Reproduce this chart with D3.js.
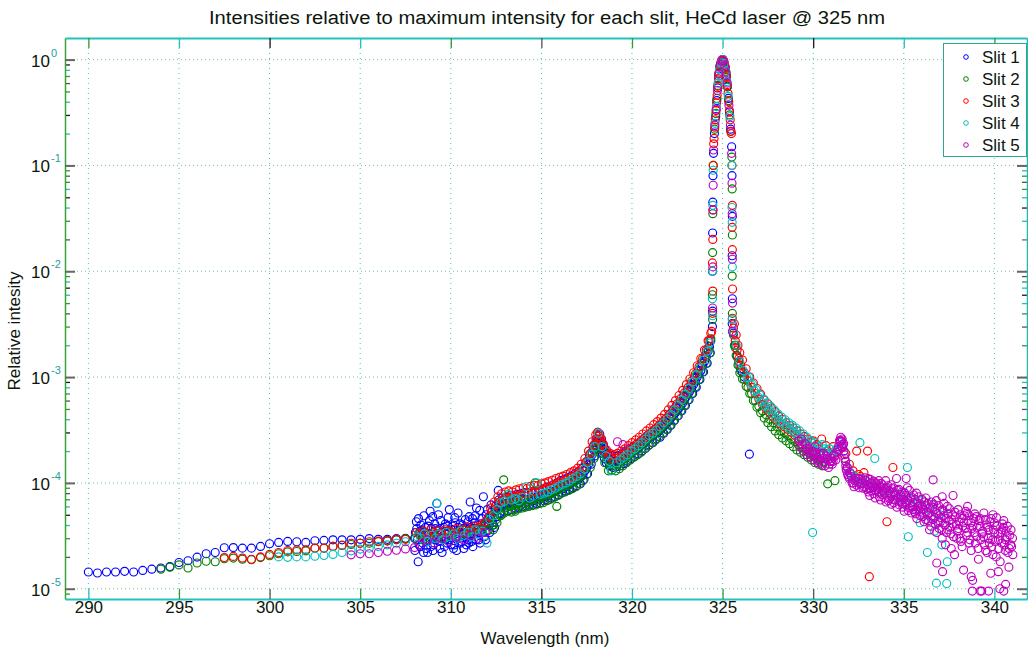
<!DOCTYPE html>
<html>
<head>
<meta charset="utf-8">
<script src="https://cdn.jsdelivr.net/npm/d3@7"></script>
<style>
  body { margin: 0; background: #fff; }
  svg { display: block; }
  text { font-family: "Liberation Sans", Arial, Helvetica, sans-serif; }
</style>
</head>
<body>
<svg id="chart" width="1028" height="653"></svg>
<script>
// ---- data: [wavelength (nm), intensity relative to the slit's maximum] ----
const slitNames = ["Slit 1", "Slit 2", "Slit 3", "Slit 4", "Slit 5"];
const xTickValues = [290, 295, 300, 305, 310, 315, 320, 325, 330, 335, 340];
const yTickExponents = [-5, -4, -3, -2, -1, 0];

const slit1 = [
  [290.0,1.44e-5],[290.5,1.41e-5],[291.0,1.44e-5],[291.5,1.44e-5],[292.0,1.46e-5],[292.5,1.44e-5],
  [293.0,1.49e-5],[293.5,1.53e-5],[294.0,1.57e-5],[294.5,1.62e-5],[295.0,1.77e-5],[295.5,1.84e-5],
  [296.0,1.99e-5],[296.5,2.14e-5],[297.0,2.2e-5],[297.5,2.44e-5],[298.0,2.45e-5],[298.5,2.42e-5],
  [299.0,2.42e-5],[299.5,2.51e-5],[300.0,2.66e-5],[300.5,2.74e-5],[301.0,2.8e-5],[301.5,2.78e-5],
  [302.0,2.74e-5],[302.5,2.84e-5],[303.0,2.86e-5],[303.5,2.9e-5],[304.0,2.9e-5],[304.5,2.9e-5],
  [305.0,2.93e-5],[305.5,2.98e-5],[306.0,2.93e-5],[306.5,2.93e-5],[307.0,2.98e-5],[307.5,3.0e-5],
  [308.0,3.0e-5],[308.05,3.4e-5],[308.1,4.3e-5],[308.15,2.9e-5],[308.2,1.8e-5],[308.25,2.6e-5],
  [308.3,3.5e-5],[308.35,4.0e-5],[308.4,3.1e-5],[308.45,2.7e-5],[308.5,2.2e-5],[308.55,3.2e-5],
  [308.6,3.8e-5],[308.65,2.4e-5],[308.7,2.8e-5],[308.75,3.9e-5],[308.8,3.3e-5],[308.86,5.4e-5],
  [308.9,2.5e-5],[308.95,3.0e-5],[309.0,4.8e-5],[309.05,2.6e-5],[309.1,3.2e-5],[309.15,3.7e-5],
  [309.2,2.9e-5],[309.23,6.4e-5],[309.3,3.6e-5],[309.35,2.8e-5],[309.4,2.4e-5],[309.45,4.4e-5],
  [309.5,3.4e-5],[309.55,3.1e-5],[309.6,3.0e-5],[309.65,2.5e-5],[309.7,4.1e-5],[309.75,3.3e-5],
  [309.8,2.7e-5],[309.85,4.7e-5],[309.9,3.5e-5],[309.95,2.9e-5],[310.0,3.1e-5],[310.05,3.6e-5],
  [310.1,3.9e-5],[310.15,2.4e-5],[310.2,2.6e-5],[310.25,4.2e-5],[310.3,3.3e-5],[310.35,3.0e-5],
  [310.4,5.2e-5],[310.45,3.5e-5],[310.5,3.0e-5],[310.55,2.7e-5],[310.6,2.8e-5],[310.65,4.0e-5],
  [310.7,3.7e-5],[310.75,3.3e-5],[310.8,4.5e-5],[310.85,2.6e-5],[310.9,3.2e-5],[310.95,4.3e-5],
  [311.0,2.7e-5],[311.05,3.1e-5],[311.07,6.6e-5],[311.1,3.8e-5],[311.15,2.8e-5],[311.2,4.6e-5],
  [311.25,3.7e-5],[311.3,3.4e-5],[311.35,4.9e-5],[311.4,2.9e-5],[311.45,3.3e-5],[311.5,4.0e-5],
  [311.55,2.9e-5],[311.6,5.5e-5],[311.65,4.1e-5],[311.7,3.6e-5],[311.75,3.5e-5],[311.8,7.4e-5],
  [311.85,3.1e-5],[311.9,4.2e-5],[311.95,5.0e-5],[312.0,3.5e-5],
  [312.2,4.5e-5],[312.3,4.2e-5],[312.4,5.0e-5],[312.5,5.4e-5],[312.6,5.8e-5],[312.62,8.5e-5],
  [312.7,5.2e-5],[312.8,6.0e-5],[312.9,6.4e-5],[313.0,6.2e-5],[313.1,5.9e-5],[313.2,6.6e-5],
  [313.3,6.9e-5],[313.4,6.3e-5],[313.5,6.1e-5],[313.6,6.8e-5],[313.7,6.4e-5],[313.8,6.5e-5],
  [313.9,7.1e-5],[314.0,7.0e-5],[314.1,6.4e-5],[314.2,6.6e-5],[314.3,6.9e-5],[314.4,7.2e-5],
  [314.5,6.7e-5],[314.6,6.9e-5],[314.7,7.3e-5],[314.8,7.4e-5],[314.9,7.0e-5],[315.0,7.3e-5],
  [315.1,7.6e-5],[315.2,7.8e-5],[315.3,7.4e-5],[315.4,7.6e-5],[315.5,8.0e-5],[315.6,8.2e-5],
  [315.7,8.3e-5],[315.8,8.5e-5],[315.9,8.6e-5],[316.0,9.0e-5],[316.1,9.3e-5],[316.2,8.8e-5],
  [316.3,9.1e-5],[316.4,9.6e-5],[316.5,9.5e-5],[316.6,9.8e-5],[316.7,1.01e-4],[316.8,1.05e-4],
  [316.9,1.06e-4],[317.0,1.08e-4],[317.1,1.12e-4],[317.2,1.15e-4],[317.3,1.2e-4],[317.4,1.3e-4],
  [317.5,1.4e-4],[317.6,1.5e-4],[317.7,1.65e-4],[317.8,1.85e-4],[317.9,2.05e-4],[318.0,2.25e-4],
  [318.05,2.4e-4],[318.1,2.5e-4],[318.15,2.8e-4],[318.2,2.6e-4],[318.25,2.35e-4],[318.3,2.4e-4],
  [318.35,2.2e-4],[318.4,2.1e-4],[318.45,1.95e-4],[318.5,1.9e-4],[318.55,1.85e-4],[318.6,1.75e-4],
  [318.7,1.7e-4],[318.8,1.62e-4],[318.9,1.6e-4],[319.0,1.55e-4],[319.1,1.62e-4],[319.2,1.58e-4],
  [319.3,1.6e-4],[319.4,1.65e-4],[319.5,1.7e-4],[319.6,1.75e-4],[319.7,1.8e-4],[319.8,1.85e-4],
  [319.9,1.9e-4],[320.0,1.95e-4],[320.1,2.0e-4],[320.2,2.05e-4],[320.3,2.1e-4],[320.4,2.2e-4],
  [320.5,2.3e-4],[320.6,2.35e-4],[320.7,2.4e-4],[320.8,2.5e-4],[320.9,2.6e-4],[321.0,2.7e-4],
  [321.1,2.75e-4],[321.2,2.85e-4],[321.3,2.95e-4],[321.4,3.0e-4],[321.5,3.1e-4],[321.6,3.2e-4],
  [321.7,3.35e-4],[321.8,3.5e-4],[321.9,3.65e-4],[322.0,3.8e-4],[322.1,4.0e-4],[322.2,4.2e-4],
  [322.3,4.4e-4],[322.4,4.6e-4],[322.5,4.8e-4],[322.6,5.1e-4],[322.7,5.4e-4],[322.8,5.7e-4],
  [322.9,6.1e-4],[323.0,6.5e-4],[323.1,6.9e-4],[323.2,7.4e-4],[323.3,7.9e-4],[323.4,8.5e-4],
  [323.5,9.2e-4],[323.6,1.0e-3],[323.7,1.08e-3],[323.8,1.15e-3],[323.9,1.28e-3],[324.0,1.4e-3],
  [324.1,1.55e-3],[324.2,1.75e-3],[324.28,1.95e-3],[324.35,2.2e-3],
  [324.44,3.0e-3],[324.45,4.2e-3],[324.44,1.0e-2],[324.45,2.3e-2],[324.46,4.5e-2],[324.47,8.0e-2],[324.5,0.13],
  [324.55,0.2],[324.62,0.29],[324.68,0.41],[324.73,0.54],[324.78,0.7],[324.85,0.86],[324.92,0.95],
  [325.0,1.0],[325.07,0.95],[325.14,0.85],[325.2,0.72],[325.26,0.56],[325.32,0.43],[325.38,0.32],[325.44,0.22],
  [325.5,0.15],[325.52,8.0e-2],[325.54,3.3e-2],[325.53,1.4e-2],[325.54,5.5e-3],[325.53,3.2e-3],
  [325.6,2.6e-3],[325.7,2.0e-3],[325.8,1.6e-3],[325.9,1.4e-3],[326.0,1.2e-3],[326.1,1.1e-3],
  [326.2,1.0e-3],[326.48,1.87e-4]
];
// second scan of slit 1 through the dense part of the band
const slit1Scan2 = [
  [312.05,4.6e-5],[312.15,3.4e-5],[312.25,5.3e-5],[312.35,4.0e-5],[312.45,6.0e-5],[312.55,4.8e-5],
  [312.65,6.9e-5],[312.75,5.1e-5],[312.85,7.2e-5],[312.95,5.4e-5],[313.05,7.3e-5],[313.15,5.5e-5],
  [313.25,7.6e-5],[313.35,5.6e-5],[313.45,7.5e-5],[313.55,5.8e-5],[313.65,7.8e-5],[313.75,5.9e-5],
  [313.85,7.9e-5],[313.95,6.0e-5],[314.05,8.1e-5],[314.15,6.1e-5],[314.25,8.0e-5],[314.35,6.2e-5],
  [314.45,8.3e-5],[314.55,6.3e-5],[314.65,8.4e-5],[314.75,6.4e-5],[314.85,8.6e-5],[314.95,6.5e-5],
  [315.05,8.7e-5],[315.15,6.8e-5],[315.25,9.0e-5],[315.35,6.9e-5],[315.45,9.2e-5],[315.55,7.2e-5],
  [315.65,9.6e-5],[315.75,7.4e-5],[315.85,1.0e-4],[315.95,7.7e-5],[316.05,1.05e-4],[316.15,8.1e-5],
  [316.25,1.08e-4],[316.35,8.4e-5],[316.45,1.12e-4],[316.55,8.6e-5],[316.65,1.16e-4],[316.75,9.0e-5],
  [316.85,1.22e-4],[316.95,9.4e-5],[317.05,1.28e-4],[317.15,9.8e-5],[317.25,1.38e-4],[317.35,1.08e-4],
  [317.45,1.55e-4],[317.55,1.22e-4],[317.65,1.85e-4],[317.75,1.5e-4],[317.85,2.2e-4],[317.95,1.8e-4],
  [318.02,2.6e-4],[318.08,2.1e-4],[318.12,3.0e-4],[318.18,2.3e-4],[318.22,2.9e-4],[318.28,2.1e-4],
  [318.32,2.6e-4],[318.38,1.9e-4],[318.42,2.3e-4],[318.48,1.7e-4],[318.52,2.05e-4],[318.58,1.55e-4],
  [318.65,1.9e-4],[318.75,1.45e-4],[318.85,1.82e-4],[318.95,1.4e-4],[319.05,1.78e-4],[319.15,1.42e-4],
  [319.25,1.8e-4],[319.35,1.45e-4],[319.45,1.88e-4],[319.55,1.52e-4],[319.65,1.98e-4],[319.75,1.6e-4],
  [319.85,2.1e-4],[319.95,1.7e-4],[320.05,2.2e-4],[320.15,1.78e-4],[320.25,2.32e-4],[320.35,1.88e-4],
  [320.45,2.45e-4],[320.55,2.0e-4],[320.65,2.62e-4],[320.75,2.12e-4],[320.85,2.8e-4],[320.95,2.28e-4],
  [321.05,3.0e-4],[321.15,2.4e-4],[321.25,3.2e-4],[321.35,2.6e-4],[321.45,3.4e-4],[321.55,2.7e-4],
  [321.65,3.65e-4],[321.75,2.95e-4],[321.85,4.0e-4],[321.95,3.2e-4],[322.05,4.4e-4],[322.15,3.5e-4],
  [322.25,4.8e-4],[322.35,3.9e-4],[322.45,5.3e-4],[322.55,4.3e-4],[322.65,5.9e-4],[322.75,4.8e-4],
  [322.85,6.6e-4],[322.95,5.4e-4],[323.05,7.5e-4],[323.15,6.1e-4],[323.25,8.5e-4],[323.35,7.0e-4],
  [323.45,9.8e-4],[323.55,8.0e-4],[323.65,1.15e-3],[323.75,9.5e-4],[323.85,1.35e-3],[323.95,1.12e-3],
  [324.05,1.6e-3],[324.15,1.35e-3],[324.25,1.95e-3],[324.32,1.7e-3]
];
// third scan of slit 1: the noisy stretch below 312.5 nm
const slit1Scan3 = [
  [308.02,2.3e-5],[308.12,3.7e-5],[308.22,4.6e-5],[308.32,2.5e-5],[308.42,3.6e-5],[308.52,4.9e-5],
  [308.62,2.9e-5],[308.72,2.2e-5],[308.82,4.4e-5],[308.92,3.7e-5],[309.02,2.3e-5],[309.12,4.1e-5],
  [309.22,3.3e-5],[309.32,5.0e-5],[309.42,3.0e-5],[309.52,2.2e-5],[309.62,3.8e-5],[309.72,2.9e-5],
  [309.82,3.9e-5],[309.92,5.6e-5],[310.02,2.6e-5],[310.12,3.3e-5],[310.22,4.7e-5],[310.32,2.3e-5],
  [310.42,3.8e-5],[310.52,4.1e-5],[310.62,3.3e-5],[310.72,2.4e-5],[310.82,3.8e-5],[310.92,2.9e-5],
  [311.02,4.8e-5],[311.12,3.3e-5],[311.22,2.5e-5],[311.32,4.2e-5],[311.42,5.8e-5],[311.52,3.4e-5],
  [311.62,2.7e-5],[311.72,4.6e-5],[311.82,3.9e-5],[311.92,2.9e-5],[312.02,5.6e-5],[312.12,4.0e-5],
  [312.22,6.2e-5],[312.32,4.8e-5],[312.42,3.8e-5]
];

const slit2 = [
  [294.0,1.53e-5],[294.5,1.6e-5],[295.0,1.68e-5],[295.5,1.57e-5],[296.0,1.75e-5],[296.5,1.82e-5],
  [297.0,1.8e-5],[297.5,1.92e-5],[298.0,1.95e-5],[298.5,1.9e-5],[299.0,1.88e-5],[299.5,1.97e-5],
  [300.0,2.05e-5],[300.5,2.14e-5],[301.0,2.23e-5],[301.5,2.25e-5],[302.0,2.28e-5],[302.5,2.42e-5],
  [303.0,2.42e-5],[303.5,2.51e-5],[304.0,2.58e-5],[304.5,2.62e-5],[305.0,2.69e-5],[305.5,2.69e-5],
  [306.0,2.78e-5],[306.5,2.82e-5],[307.0,2.9e-5],[307.5,2.98e-5],
  [308.05,3.0e-5],[308.25,3.3e-5],[308.45,2.9e-5],[308.65,3.2e-5],[308.85,3.0e-5],[309.05,3.4e-5],
  [309.25,3.1e-5],[309.45,3.3e-5],[309.65,3.0e-5],[309.85,3.5e-5],[310.05,3.2e-5],[310.25,3.4e-5],
  [310.45,3.1e-5],[310.65,3.6e-5],[310.85,3.3e-5],[311.05,3.5e-5],[311.25,3.4e-5],[311.45,3.7e-5],
  [311.65,3.6e-5],[311.85,4.0e-5],[312.0,4.2e-5],[312.1,3.6e-5],[312.2,4.8e-5],[312.3,4.0e-5],
  [312.4,5.2e-5],[312.5,4.5e-5],[312.6,5.6e-5],[312.7,6.3e-5],[312.8,5.0e-5],[312.9,6.8e-5],
  [312.92,1.07e-4],[313.0,5.8e-5],[313.1,7.4e-5],[313.2,6.2e-5],[313.3,6.0e-5],[313.4,7.0e-5],
  [313.5,6.4e-5],[313.55,5.4e-5],[313.6,6.1e-5],[313.7,7.2e-5],[313.8,6.6e-5],[313.9,6.3e-5],
  [314.0,6.9e-5],[314.2,6.5e-5],[314.4,6.8e-5],[314.6,7.1e-5],[314.65,1.0e-4],[314.8,6.9e-5],
  [315.0,7.4e-5],[315.2,7.2e-5],[315.4,7.8e-5],[315.6,8.0e-5],[315.8,8.3e-5],[315.85,6.0e-5],
  [316.0,8.8e-5],[316.2,9.2e-5],[316.4,9.4e-5],[316.6,1.0e-4],[316.8,1.02e-4],[317.0,1.1e-4],
  [317.2,1.18e-4],[317.4,1.35e-4],[317.6,1.6e-4],[317.8,1.95e-4],[318.0,2.3e-4],[318.2,2.45e-4],
  [318.4,2.0e-4],[318.6,1.65e-4],[318.7,1.3e-4],[318.8,1.5e-4],[319.0,1.45e-4],[319.2,1.5e-4],
  [319.4,1.6e-4],[319.6,1.7e-4],[319.8,1.8e-4],[320.0,1.95e-4],[320.2,2.05e-4],[320.4,2.2e-4],
  [320.6,2.35e-4],[320.8,2.55e-4],[321.0,2.75e-4],[321.2,2.9e-4],[321.4,3.1e-4],[321.6,3.3e-4],
  [321.8,3.6e-4],[322.0,3.9e-4],[322.2,4.3e-4],[322.4,4.8e-4],[322.6,5.3e-4],[322.8,6.0e-4],
  [323.0,6.8e-4],[323.2,7.8e-4],[323.4,9.0e-4],[323.6,1.05e-3],[323.8,1.25e-3],[324.0,1.5e-3],
  [324.2,1.85e-3],[324.35,2.3e-3],
  [324.45,3.5e-3],[324.44,6.0e-3],[324.45,1.5e-2],[324.46,3.5e-2],[324.48,0.1],
  [324.56,0.22],[324.63,0.31],[324.69,0.43],[324.74,0.57],[324.8,0.74],[324.87,0.88],[324.94,0.97],
  [325.01,1.0],[325.08,0.94],[325.15,0.83],[325.21,0.7],[325.27,0.55],[325.33,0.41],[325.39,0.3],[325.45,0.21],
  [325.51,0.12],[325.53,6.0e-2],[325.54,2.2e-2],[325.53,9.0e-3],[325.54,4.0e-3],
  [325.6,2.5e-3],[325.7,1.9e-3],[325.8,1.55e-3],[325.9,1.3e-3],[326.0,1.15e-3],[326.2,9.5e-4],
  [326.4,8.0e-4],[326.6,7.0e-4],[326.8,6.0e-4],[327.0,5.3e-4],[327.2,4.8e-4],[327.4,4.4e-4],
  [327.6,4.0e-4],[327.8,3.7e-4],[328.0,3.4e-4],[328.2,3.1e-4],[328.4,3.0e-4],[328.6,2.8e-4],
  [328.8,2.6e-4],[329.0,2.45e-4],[329.2,2.3e-4],[329.4,2.15e-4],[329.6,2.0e-4],[329.8,1.9e-4],
  [330.0,1.8e-4],[330.2,1.7e-4],[330.4,1.65e-4],[330.6,1.6e-4],[330.8,9.8e-5],[331.0,1.6e-4],
  [331.2,1.05e-4]
];
// lower edge of the slit 2 band
const slit2Scan2 = [
  [312.35,3.6e-5],[312.55,4.2e-5],[312.75,4.9e-5],[312.95,5.2e-5],[313.15,5.4e-5],[313.35,5.3e-5],
  [313.55,5.6e-5],[313.75,5.7e-5],[313.95,5.8e-5],[314.1,5.9e-5],[314.3,6.0e-5],[314.5,6.1e-5],
  [314.7,6.2e-5],[314.9,6.4e-5],[315.1,6.5e-5],[315.3,6.8e-5],[315.5,7.0e-5],[315.7,7.3e-5],
  [315.9,7.6e-5],[316.1,8.0e-5],[316.3,8.2e-5],[316.5,8.5e-5],[316.7,8.8e-5],[316.9,9.2e-5],
  [317.1,9.8e-5],[317.3,1.05e-4],[317.5,1.2e-4],[317.7,1.4e-4],[317.9,1.7e-4],[318.1,2.1e-4],
  [318.3,1.9e-4],[318.5,1.55e-4],[318.9,1.32e-4],[319.1,1.3e-4],[319.3,1.36e-4],[319.5,1.45e-4],
  [319.7,1.55e-4],[319.9,1.65e-4],[320.1,1.75e-4],[320.3,1.85e-4],[320.5,1.95e-4],[320.7,2.1e-4],
  [320.9,2.25e-4],[321.1,2.4e-4],[321.3,2.55e-4],[321.5,2.75e-4],[321.7,2.95e-4],[321.9,3.2e-4],
  [322.1,3.5e-4],[322.3,3.85e-4],[322.5,4.3e-4],[322.7,4.8e-4],[322.9,5.4e-4],[323.1,6.1e-4],
  [323.3,7.0e-4],[323.5,8.1e-4],[323.7,9.5e-4],[323.9,1.12e-3],[324.1,1.35e-3],[324.3,1.7e-3],
  [325.65,2.0e-3],[325.75,1.6e-3],[325.85,1.3e-3],[325.95,1.1e-3],[326.1,9.6e-4],[326.3,8.2e-4],
  [326.5,7.0e-4],[326.7,6.0e-4],[326.9,5.2e-4],[327.1,4.6e-4],[327.3,4.1e-4],[327.5,3.7e-4],
  [327.7,3.4e-4],[327.9,3.1e-4],[328.1,2.85e-4],[328.3,2.65e-4],[328.5,2.5e-4],[328.7,2.35e-4],
  [328.9,2.2e-4],[329.1,2.05e-4],[329.3,1.95e-4],[329.5,1.85e-4],[329.7,1.75e-4],[329.9,1.65e-4],
  [330.1,1.55e-4],[330.3,1.5e-4],[330.5,1.45e-4]
];

const slit3 = [
  [297.5,1.97e-5],[298.0,2.02e-5],[298.5,1.95e-5],[299.0,1.9e-5],[299.5,2.0e-5],[300.0,2.11e-5],
  [300.5,2.2e-5],[301.0,2.3e-5],[301.5,2.33e-5],[302.0,2.33e-5],[302.5,2.42e-5],[303.0,2.42e-5],
  [303.5,2.51e-5],[304.0,2.56e-5],[304.5,2.69e-5],[305.0,2.69e-5],[305.5,2.78e-5],[306.0,2.82e-5],
  [306.5,2.86e-5],[307.0,2.93e-5],[307.5,2.93e-5],
  [308.1,3.4e-5],[308.3,3.2e-5],[308.5,3.5e-5],[308.7,3.3e-5],[308.9,3.6e-5],[309.1,3.4e-5],
  [309.3,3.5e-5],[309.5,3.3e-5],[309.7,3.6e-5],[309.9,3.5e-5],[310.1,3.4e-5],[310.3,3.7e-5],
  [310.5,3.5e-5],[310.7,3.6e-5],[310.9,3.8e-5],[311.1,3.6e-5],[311.3,3.9e-5],[311.5,3.8e-5],
  [311.7,4.0e-5],[311.9,4.3e-5],[312.1,4.8e-5],[312.3,5.5e-5],[312.5,6.2e-5],[312.7,6.6e-5],
  [312.9,6.9e-5],[313.1,7.2e-5],[313.3,7.0e-5],[313.5,7.4e-5],[313.7,7.6e-5],[313.9,7.5e-5],
  [314.1,7.9e-5],[314.3,8.0e-5],[314.5,8.3e-5],[314.7,8.2e-5],[314.9,8.6e-5],[315.1,8.8e-5],
  [315.3,9.2e-5],[315.5,9.0e-5],[315.7,9.6e-5],[315.9,1.0e-4],[316.1,1.02e-4],[316.3,1.06e-4],
  [316.5,1.1e-4],[316.7,1.14e-4],[316.9,1.2e-4],[317.1,1.28e-4],[317.3,1.4e-4],[317.5,1.6e-4],
  [317.7,1.9e-4],[317.9,2.3e-4],[318.05,2.6e-4],[318.15,2.75e-4],[318.25,2.6e-4],[318.35,2.3e-4],
  [318.5,2.0e-4],[318.7,1.8e-4],[318.9,1.7e-4],[319.1,1.7e-4],[319.3,1.75e-4],[319.5,1.85e-4],
  [319.7,1.95e-4],[319.9,2.1e-4],[320.1,2.2e-4],[320.3,2.35e-4],[320.5,2.5e-4],[320.7,2.65e-4],
  [320.9,2.85e-4],[321.1,3.05e-4],[321.3,3.25e-4],[321.5,3.5e-4],[321.7,3.8e-4],[321.9,4.1e-4],
  [322.1,4.5e-4],[322.3,5.0e-4],[322.5,5.6e-4],[322.7,6.3e-4],[322.9,7.1e-4],[323.1,8.0e-4],
  [323.3,9.2e-4],[323.5,1.07e-3],[323.7,1.25e-3],[323.9,1.5e-3],[324.1,1.8e-3],[324.25,2.2e-3],
  [324.4,2.7e-3],
  [324.45,4.0e-3],[324.46,6.5e-3],[324.44,1.2e-2],[324.46,2.0e-2],[324.47,3.8e-2],[324.49,0.1],[324.51,0.16],
  [324.53,0.18],[324.57,0.23],[324.6,0.27],[324.64,0.33],[324.67,0.39],[324.7,0.46],[324.74,0.56],
  [324.77,0.66],[324.81,0.76],[324.85,0.85],[324.89,0.92],[324.94,0.97],[324.98,1.0],[325.02,1.0],
  [325.06,0.97],[325.1,0.92],[325.14,0.85],[325.18,0.77],[325.22,0.68],[325.26,0.58],[325.3,0.48],
  [325.34,0.4],[325.38,0.33],[325.42,0.27],[325.46,0.21],
  [325.49,0.2],[325.52,0.1],[325.54,4.2e-2],[325.53,2.6e-2],[325.54,1.6e-2],[325.55,6.8e-3],[325.54,3.6e-3],
  [325.6,2.9e-3],[325.7,2.2e-3],[325.8,1.8e-3],[325.9,1.5e-3],[326.0,1.3e-3],[326.2,1.1e-3],
  [326.4,9.2e-4],[326.6,8.0e-4],[326.8,7.0e-4],[327.0,6.2e-4],[327.2,5.5e-4],[327.4,5.0e-4],
  [327.6,4.6e-4],[327.8,4.2e-4],[328.0,3.9e-4],[328.2,3.6e-4],[328.4,3.4e-4],[328.6,3.2e-4],
  [328.8,3.0e-4],[329.0,2.8e-4],[329.2,2.6e-4],[329.4,2.45e-4],[329.6,2.3e-4],[329.8,2.2e-4],
  [330.0,2.5e-4],[330.1,1.9e-4],[330.3,2.1e-4],[330.47,2.6e-4],[330.6,1.85e-4],[330.8,2.0e-4],
  [331.0,1.9e-4],[331.2,1.8e-4],[331.4,2.0e-4],[331.6,2.2e-4],[331.8,1.9e-4],[332.0,1.5e-4],
  [332.2,1.3e-4],[332.4,2.0e-4],[332.5,1.2e-4],[332.6,1.15e-4],[332.8,1.25e-4],[333.0,2.0e-4],
  [333.1,1.3e-5],[333.2,1.0e-4],[333.5,9.5e-5],[333.8,9.0e-5],[334.07,4.3e-5],[334.4,1.4e-4]
];
// upper edge of the slit 3 band
const slit3Scan2 = [
  [312.2,5.8e-5],[312.4,6.6e-5],[312.6,7.4e-5],[312.8,7.9e-5],[313.0,8.2e-5],[313.2,8.4e-5],
  [313.4,8.2e-5],[313.6,8.6e-5],[313.8,8.8e-5],[314.0,9.0e-5],[314.2,8.8e-5],[314.4,9.3e-5],
  [314.6,9.5e-5],[314.8,9.4e-5],[315.0,9.8e-5],[315.2,1.0e-4],[315.4,1.03e-4],[315.6,1.06e-4],
  [315.8,1.1e-4],[316.0,1.13e-4],[316.2,1.16e-4],[316.4,1.2e-4],[316.6,1.25e-4],[316.8,1.3e-4],
  [317.0,1.38e-4],[317.2,1.5e-4],[317.4,1.7e-4],[317.6,2.0e-4],[317.8,2.45e-4],[318.0,2.85e-4],
  [318.1,3.0e-4],[318.2,2.9e-4],[318.3,2.6e-4],[318.4,2.35e-4],[318.6,2.05e-4],[318.8,1.9e-4],
  [319.0,1.85e-4],[319.2,1.9e-4],[319.4,2.0e-4],[319.6,2.1e-4],[319.8,2.25e-4],[320.0,2.4e-4],
  [320.2,2.55e-4],[320.4,2.7e-4],[320.6,2.9e-4],[320.8,3.1e-4],[321.0,3.3e-4],[321.2,3.55e-4],
  [321.4,3.8e-4],[321.6,4.1e-4],[321.8,4.45e-4],[322.0,4.9e-4],[322.2,5.4e-4],[322.4,6.0e-4],
  [322.6,6.7e-4],[322.8,7.5e-4],[323.0,8.5e-4],[323.2,9.6e-4],[323.4,1.1e-3],[323.6,1.28e-3],
  [323.8,1.5e-3],[324.0,1.8e-3],[324.2,2.2e-3],[324.35,2.6e-3],
  [325.65,3.2e-3],[325.75,2.5e-3],[325.85,2.0e-3],[325.95,1.7e-3],[326.1,1.45e-3],[326.3,1.2e-3],
  [326.5,1.0e-3],[326.7,8.8e-4],[326.9,7.8e-4],[327.1,6.9e-4],[327.3,6.1e-4],[327.5,5.6e-4],
  [327.7,5.1e-4],[327.9,4.7e-4],[328.1,4.3e-4],[328.3,4.0e-4],[328.5,3.7e-4],[328.7,3.5e-4],
  [328.9,3.3e-4],[329.1,3.1e-4],[329.3,2.9e-4],[329.5,2.75e-4],[329.7,2.6e-4],[329.9,2.45e-4],
  [330.2,2.3e-4],[330.7,2.25e-4],[331.1,2.2e-4],[331.5,2.5e-4]
];

const slit4 = [
  [300.5,2.0e-5],[301.0,1.98e-5],[301.5,2.0e-5],[302.0,2.0e-5],[302.5,2.03e-5],[303.0,2.06e-5],
  [303.5,2.11e-5],[304.0,2.2e-5],[304.5,2.28e-5],[305.0,2.37e-5],[305.5,2.42e-5],[306.0,2.51e-5],
  [306.5,2.6e-5],[307.0,2.69e-5],[307.5,2.78e-5],
  [308.15,3.1e-5],[308.35,3.0e-5],[308.55,3.3e-5],[308.75,2.8e-5],[308.95,3.2e-5],[309.15,3.0e-5],
  [309.23,6.4e-5],[309.35,3.3e-5],[309.55,2.9e-5],[309.75,3.4e-5],[309.95,3.1e-5],[310.15,3.3e-5],
  [310.35,3.0e-5],[310.55,3.5e-5],[310.75,3.2e-5],[310.95,3.4e-5],[311.15,3.1e-5],[311.35,3.6e-5],
  [311.55,3.3e-5],[311.75,3.5e-5],[312.0,2.7e-5],[312.15,4.5e-5],[312.35,4.9e-5],[312.55,5.6e-5],
  [312.75,6.5e-5],[312.95,6.7e-5],[313.15,7.8e-5],[313.35,6.9e-5],[313.55,7.1e-5],[313.75,6.8e-5],
  [313.95,7.3e-5],[314.15,9.2e-5],[314.35,7.2e-5],[314.55,7.5e-5],[314.75,1.0e-4],[314.95,7.8e-5],
  [315.15,8.0e-5],[315.35,8.2e-5],[315.55,8.6e-5],[315.75,8.9e-5],[315.95,9.3e-5],[316.15,9.7e-5],
  [316.35,1.0e-4],[316.55,1.04e-4],[316.75,1.1e-4],[316.95,1.15e-4],[317.15,1.22e-4],[317.35,1.35e-4],
  [317.55,1.55e-4],[317.75,1.85e-4],[317.95,2.2e-4],[318.14,2.95e-4],[318.35,2.2e-4],[318.55,1.8e-4],
  [318.75,1.6e-4],[318.85,1.3e-4],[319.15,1.55e-4],[319.35,1.65e-4],[319.55,1.75e-4],[319.75,1.85e-4],
  [319.95,2.0e-4],[320.15,2.1e-4],[320.35,2.25e-4],[320.55,2.4e-4],[320.75,2.6e-4],[320.95,2.8e-4],
  [321.15,2.95e-4],[321.35,3.15e-4],[321.55,3.4e-4],[321.75,3.7e-4],[321.95,4.0e-4],[322.15,4.4e-4],
  [322.35,4.9e-4],[322.55,5.4e-4],[322.75,6.1e-4],[322.95,6.9e-4],[323.15,7.8e-4],[323.35,9.0e-4],
  [323.55,1.05e-3],[323.75,1.22e-3],[323.95,1.45e-3],[324.15,1.75e-3],[324.3,2.1e-3],
  [324.45,3.8e-3],[324.44,5.5e-3],[324.45,1.0e-2],[324.46,4.2e-2],[324.48,9.0e-2],
  [324.58,0.25],[324.66,0.36],[324.75,0.6],[324.83,0.8],[324.9,0.93],[324.99,1.0],[325.09,0.92],
  [325.17,0.78],[325.24,0.62],[325.31,0.45],[325.4,0.29],
  [325.51,0.1],[325.52,4.0e-2],[325.53,2.9e-2],[325.54,1.1e-2],[325.53,3.5e-3],
  [325.6,2.7e-3],[325.75,2.0e-3],[325.95,1.4e-3],[326.15,1.15e-3],[326.35,9.8e-4],[326.55,8.5e-4],
  [326.75,7.4e-4],[326.95,6.5e-4],[327.15,5.8e-4],[327.35,5.3e-4],[327.55,4.9e-4],[327.75,4.5e-4],
  [327.95,4.1e-4],[328.15,3.8e-4],[328.35,3.6e-4],[328.55,3.4e-4],[328.75,3.2e-4],[328.95,3.0e-4],
  [329.15,2.8e-4],[329.35,2.6e-4],[329.55,2.45e-4],[329.75,2.3e-4],[329.97,3.4e-5],[330.0,2.1e-4],
  [330.2,2.0e-4],[330.4,1.9e-4],[330.6,2.1e-4],[330.8,1.85e-4],[331.0,1.8e-4],[331.2,2.0e-4],
  [331.4,2.2e-4],[331.6,2.3e-4],[331.8,1.6e-4],[332.0,1.25e-4],[332.2,1.1e-4],[332.5,1.0e-4],
  [332.58,2.4e-4],[332.7,9.8e-5],[332.9,1.05e-4],[333.1,9.5e-5],[333.3,9.0e-5],[333.4,1.7e-4],
  [333.5,8.8e-5],[333.7,9.2e-5],[333.9,8.3e-5],[334.1,8.0e-5],[334.3,7.6e-5],[334.5,7.8e-5],
  [334.7,7.2e-5],[334.9,7.0e-5],[335.1,6.5e-5],[335.2,1.4e-4],[335.25,3.1e-5],[335.3,6.8e-5],
  [335.5,6.0e-5],[335.7,5.6e-5],[335.9,4.2e-5],[336.1,5.2e-5],[336.3,2.2e-5],[336.5,4.8e-5],
  [336.7,3.5e-5],[336.8,1.13e-5],[336.9,4.4e-5],[337.1,2.6e-5],[337.3,4.0e-5],[337.37,1.12e-5],
  [337.4,1.8e-5]
];
// upper edge of the slit 4 band on the long-wavelength side
const slit4Scan2 = [
  [326.45,1.0e-3],[326.65,8.6e-4],[326.85,7.6e-4],[327.05,6.8e-4],[327.25,6.2e-4],[327.45,5.7e-4],
  [327.65,5.3e-4],[327.85,4.9e-4],[328.05,4.5e-4],[328.25,4.2e-4],[328.45,3.95e-4],[328.65,3.7e-4],
  [328.85,3.5e-4],[329.05,3.3e-4],[329.25,3.1e-4],[329.45,2.9e-4],[329.65,2.7e-4],[329.85,2.5e-4],
  [330.1,2.4e-4],[330.3,2.2e-4],[330.5,2.3e-4],[330.7,2.0e-4],[330.9,2.1e-4],[331.1,1.9e-4],
  [331.3,2.1e-4],[331.5,2.4e-4],[331.7,2.0e-4],[331.9,1.4e-4],[332.1,1.2e-4],[332.3,1.15e-4],
  [332.6,1.1e-4],[332.8,1.0e-4],[333.0,1.02e-4],[333.2,9.8e-5],[333.6,9.4e-5],[334.0,8.8e-5],
  [334.4,8.2e-5],[334.8,7.6e-5],[335.0,8.2e-5],[335.4,7.0e-5],[335.8,6.4e-5],[336.0,6.8e-5],
  [336.4,5.8e-5],[336.6,6.2e-5],[337.0,5.0e-5],[337.2,5.4e-5]
];

const slit5 = [
  [304.5,2.09e-5],[305.0,2.14e-5],[305.5,2.14e-5],[306.0,2.2e-5],[306.5,2.26e-5],[307.0,2.31e-5],
  [307.5,2.38e-5],[308.0,2.45e-5],[308.3,2.6e-5],[308.7,2.9e-5],[309.1,2.7e-5],[309.5,3.0e-5],
  [309.9,2.8e-5],[310.3,3.1e-5],[310.7,2.9e-5],[311.1,3.2e-5],[311.5,3.0e-5],[311.9,3.4e-5],
  [319.2,2.45e-4],[319.5,2.3e-4],
  [324.45,4.5e-3],[324.46,1.1e-2],[324.47,3.8e-2],[324.48,6.5e-2],[324.5,0.14],
  [324.57,0.24],[324.65,0.34],[324.72,0.51],[324.79,0.73],[324.88,0.9],[324.97,0.99],[325.04,0.98],
  [325.12,0.88],[325.19,0.75],[325.25,0.6],[325.35,0.37],[325.43,0.24],
  [325.5,0.13],[325.52,6.8e-2],[325.53,3.5e-2],[325.54,1.3e-2],[325.55,5.0e-3],[325.54,2.7e-3],
  [329.2,2.5e-4],[329.25,2.2e-4],[329.35,2.6e-4],[329.4,2.3e-4],[329.45,2.0e-4],[329.55,2.35e-4],
  [329.6,2.1e-4],[329.65,1.85e-4],[329.75,2.1e-4],[329.8,1.95e-4],[329.85,1.75e-4],[329.95,2.0e-4],
  [330.0,1.85e-4],[330.05,1.65e-4],[330.1,2.2e-4],[330.15,1.95e-4],[330.2,1.75e-4],[330.25,1.55e-4],
  [330.3,1.6e-4],[330.35,1.85e-4],[330.4,1.9e-4],[330.45,1.5e-4],[330.5,1.7e-4],[330.55,1.9e-4],
  [330.6,1.55e-4],[330.65,1.45e-4],[330.7,1.8e-4],[330.75,1.7e-4],[330.8,1.65e-4],[330.85,1.4e-4],
  [330.9,1.5e-4],[330.95,1.6e-4],[331.0,1.7e-4],[331.05,1.5e-4],[331.1,1.6e-4],[331.15,1.85e-4],
  [331.2,1.8e-4],[331.25,1.65e-4],[331.3,1.95e-4],[331.35,2.05e-4],[331.4,2.2e-4],[331.45,2.5e-4],
  [331.5,2.45e-4],[331.52,2.7e-4],[331.55,2.2e-4],[331.58,2.5e-4],[331.6,2.6e-4],[331.62,2.15e-4],
  [331.65,2.3e-4],[331.68,2.35e-4],[331.7,2.0e-4],[331.72,1.85e-4],[331.75,1.7e-4],[331.78,1.6e-4],
  [331.8,1.45e-4],[331.82,1.35e-4],[331.85,1.3e-4],[331.88,1.4e-4],[331.9,1.2e-4],[331.95,1.15e-4],
  [332.0,1.1e-4],[332.05,1.25e-4],[332.1,1.15e-4],[332.15,1.0e-4],[332.2,1.0e-4],[332.25,9.2e-5],
  [332.3,1.05e-4],[332.35,1.1e-4],[332.4,9.5e-5],[332.45,1.02e-4],[332.5,1.1e-4],[332.55,9.0e-5],
  [332.6,9.8e-5],[332.65,1.08e-4],[332.7,1.0e-4],[332.75,8.9e-5],[332.8,9.2e-5],[332.85,1.12e-4],
  [332.9,1.05e-4],[332.95,8.7e-5],[333.0,9.6e-5],[333.05,8.2e-5],[333.1,8.8e-5],[333.15,1.08e-4],
  [333.2,1.0e-4],[333.25,9.3e-5],[333.3,9.0e-5],[333.35,7.9e-5],[333.4,8.5e-5],[333.45,1.0e-4],
  [333.5,9.8e-5],[333.55,8.6e-5],[333.6,8.2e-5],[333.65,7.4e-5],[333.7,9.2e-5],[333.75,9.9e-5],
  [333.8,7.8e-5],[333.85,8.4e-5],[333.9,8.8e-5],[333.95,7.2e-5],[334.0,1.05e-4],[334.05,9.0e-5],
  [334.1,7.5e-5],[334.15,6.8e-5],[334.2,8.4e-5],[334.25,7.9e-5],[334.3,9.6e-5],[334.35,8.8e-5],
  [334.4,7.0e-5],[334.45,6.5e-5],[334.5,8.0e-5],[334.55,7.6e-5],[334.6,1.1e-4],[334.65,8.5e-5],
  [334.7,7.3e-5],[334.75,6.2e-5],[334.8,6.6e-5],[334.85,7.4e-5],[334.9,8.2e-5],[334.95,5.9e-5],
  [335.0,7.0e-5],[335.05,8.0e-5],[335.1,6.2e-5],[335.13,1.1e-4],[335.15,6.6e-5],[335.2,9.0e-5],
  [335.25,5.5e-5],[335.3,5.8e-5],[335.35,7.2e-5],[335.4,7.4e-5],[335.45,6.0e-5],[335.5,6.5e-5],
  [335.55,7.7e-5],[335.6,5.3e-5],[335.65,5.1e-5],[335.7,8.0e-5],[335.75,6.5e-5],[335.8,6.0e-5],
  [335.85,5.7e-5],[335.9,4.9e-5],[335.95,6.2e-5],[336.0,7.0e-5],[336.05,4.8e-5],[336.1,5.6e-5],
  [336.15,6.6e-5],[336.2,4.5e-5],[336.25,5.3e-5],[336.3,6.4e-5],[336.35,4.4e-5],[336.4,5.2e-5],
  [336.45,5.8e-5],[336.5,3.9e-5],[336.55,4.9e-5],[336.6,5.9e-5],[336.62,1.07e-4],[336.65,6.3e-5],
  [336.7,4.7e-5],[336.75,4.1e-5],[336.8,6.8e-5],[336.82,1.75e-5],[336.85,5.1e-5],[336.9,4.2e-5],
  [336.95,3.7e-5],[337.0,5.4e-5],[337.05,4.7e-5],[337.1,3.6e-5],[337.12,7.4e-5],[337.14,1.45e-5],
  [337.15,5.6e-5],[337.2,4.9e-5],[337.25,4.0e-5],[337.3,2.6e-5],[337.35,3.4e-5],[337.4,6.0e-5],
  [337.45,5.1e-5],[337.5,4.4e-5],[337.55,3.8e-5],[337.6,3.3e-5],[337.65,4.5e-5],[337.7,5.0e-5],
  [337.72,7.6e-5],[337.75,3.1e-5],[337.8,2.1e-5],[337.85,4.8e-5],[337.9,4.0e-5],[337.95,3.5e-5],
  [338.0,5.6e-5],[338.05,4.3e-5],[338.1,3.0e-5],[338.15,2.8e-5],[338.2,4.6e-5],[338.25,3.9e-5],
  [338.3,1.5e-5],[338.35,4.9e-5],[338.4,3.7e-5],[338.45,3.2e-5],[338.5,5.2e-5],[338.52,6.0e-5],
  [338.55,4.4e-5],[338.6,2.7e-5],[338.65,2.9e-5],[338.7,4.2e-5],[338.72,1.3e-5],[338.75,3.7e-5],
  [338.78,9.5e-6],[338.8,1.2e-5],[338.85,4.6e-5],[338.9,3.4e-5],[338.95,2.7e-5],[339.0,4.8e-5],
  [339.05,3.8e-5],[339.1,2.4e-5],[339.15,4.4e-5],[339.2,3.9e-5],[339.22,9.5e-6],[339.25,2.9e-5],
  [339.3,9.5e-6],[339.35,3.5e-5],[339.4,3.1e-5],[339.45,2.6e-5],[339.5,4.5e-5],[339.55,4.0e-5],
  [339.6,2.2e-5],[339.65,3.0e-5],[339.68,9.5e-6],[339.7,3.6e-5],[339.75,4.3e-5],[339.8,1.4e-5],
  [339.85,2.5e-5],[339.9,2.9e-5],[339.92,5.0e-5],[339.95,3.6e-5],[340.0,4.2e-5],[340.05,2.8e-5],
  [340.1,2.0e-5],[340.15,3.9e-5],[340.2,3.3e-5],[340.22,1.45e-5],[340.25,2.4e-5],[340.3,1.0e-5],
  [340.35,3.4e-5],[340.4,2.7e-5],[340.45,4.1e-5],[340.5,3.8e-5],[340.52,9.5e-6],[340.55,2.6e-5],
  [340.6,2.3e-5],[340.62,1.1e-5],[340.65,3.5e-5],[340.7,3.1e-5],[340.75,2.2e-5],[340.8,1.6e-5],
  [340.85,3.2e-5],[340.9,2.6e-5],[340.95,2.5e-5],[341.0,3.0e-5]
];
// second scan of slit 5 across the noisy long-wavelength tail
const slit5Scan2 = [
  [333.02,1.1e-4],[333.12,7.6e-5],[333.22,8.4e-5],[333.32,1.04e-4],[333.42,7.2e-5],[333.52,9.1e-5],
  [333.62,1.05e-4],[333.72,6.9e-5],[333.82,9.6e-5],[333.92,8.0e-5],[334.02,6.6e-5],[334.12,9.4e-5],
  [334.22,7.1e-5],[334.32,6.3e-5],[334.42,9.0e-5],[334.52,6.9e-5],[334.62,5.9e-5],[334.72,8.7e-5],
  [334.82,7.8e-5],[334.92,6.4e-5],[335.02,5.4e-5],[335.12,7.6e-5],[335.22,6.9e-5],[335.32,8.5e-5],
  [335.42,5.2e-5],[335.52,5.6e-5],[335.62,7.0e-5],[335.72,4.6e-5],[335.82,7.4e-5],[335.92,5.4e-5],
  [336.02,6.0e-5],[336.12,4.3e-5],[336.22,7.2e-5],[336.32,5.0e-5],[336.42,3.6e-5],[336.52,6.6e-5],
  [336.62,4.5e-5],[336.72,5.6e-5],[336.82,3.4e-5],[336.92,6.1e-5],[337.02,4.3e-5],[337.12,3.0e-5],
  [337.22,6.4e-5],[337.32,4.6e-5],[337.42,3.6e-5],[337.52,5.7e-5],[337.62,2.4e-5],[337.72,4.1e-5],
  [337.82,5.3e-5],[337.92,3.0e-5],[338.02,3.7e-5],[338.12,5.0e-5],[338.22,2.5e-5],[338.32,4.2e-5],
  [338.42,5.4e-5],[338.52,3.4e-5],[338.62,4.9e-5],[338.72,2.3e-5],[338.82,3.9e-5],[338.92,5.1e-5],
  [339.02,3.1e-5],[339.12,1.9e-5],[339.22,4.6e-5],[339.32,3.3e-5],[339.42,5.2e-5],[339.52,2.3e-5],
  [339.62,3.8e-5],[339.72,2.7e-5],[339.82,4.6e-5],[339.92,2.1e-5],[340.02,3.4e-5],[340.12,4.7e-5],
  [340.22,2.9e-5],[340.32,1.8e-5],[340.42,3.6e-5],[340.52,4.4e-5],[340.62,2.9e-5],[340.72,3.9e-5],
  [340.82,2.4e-5],[340.92,3.6e-5],[341.02,2.1e-5]
];

const slits = [
  slit1.concat(slit1Scan2, slit1Scan3),
  slit2.concat(slit2Scan2),
  slit3.concat(slit3Scan2),
  slit4.concat(slit4Scan2),
  slit5.concat(slit5Scan2)
];

// ---- styles ----
const slitColors = ["#0000ff", "#008000", "#ff0000", "#00bfbf", "#bf00bf"];
const tickInks = ["#22bdbd", "#2f9a2f", "#555555", "#2f9a2f", "#22bdbd", "#1a1a1a"];
const textInk = "#0c160c";

const W = 1028, H = 653;
const plot = { left: 65, right: 1027, top: 38, bottom: 599 };

const x = d3.scaleLinear().domain([288.71, 341.8]).range([plot.left, plot.right]);
const y = d3.scaleLog().domain([8e-6, 1.6]).range([plot.bottom, plot.top]);

const svg = d3.select("#chart");
svg.append("rect").attr("width", W).attr("height", H).attr("fill", "#fff");

// dotted grid
const grid = svg.append("g");
grid.selectAll("line.gx").data(xTickValues).join("line")
  .attr("x1", d => x(d)).attr("x2", d => x(d))
  .attr("y1", plot.top).attr("y2", plot.bottom)
  .attr("stroke", "#3cc6c6").attr("stroke-width", 1).attr("stroke-dasharray", "1,4");
grid.selectAll("line.gy").data(yTickExponents).join("line")
  .attr("x1", plot.left).attr("x2", plot.right)
  .attr("y1", d => y(Math.pow(10, d))).attr("y2", d => y(Math.pow(10, d)))
  .attr("stroke", "#76c496").attr("stroke-width", 1).attr("stroke-dasharray", "1,3");

// data: open circles
svg.append("clipPath").attr("id", "plotClip").append("rect")
  .attr("x", plot.left).attr("y", plot.top)
  .attr("width", plot.right - plot.left).attr("height", plot.bottom - plot.top);
const marks = svg.append("g").attr("clip-path", "url(#plotClip)");
slits.forEach((pts, i) => {
  marks.append("g").selectAll("circle").data(pts).join("circle")
    .attr("cx", d => x(d[0])).attr("cy", d => y(d[1])).attr("r", 4)
    .attr("fill", "none").attr("stroke", slitColors[i]).attr("stroke-width", 1.15);
});

// axes (ticks point inward on all four sides)
const minorValues = [];
for (let e = -6; e <= 0; e++) for (let m = 2; m <= 9; m++) {
  const v = m * Math.pow(10, e);
  if (v > 8e-6 && v < 1.6) minorValues.push(v);
}
const decadeValues = yTickExponents.map(e => Math.pow(10, e));

function inkTicks(g, offset) {
  g.selectAll(".tick line")
    .attr("stroke", (d, i) => tickInks[(i + offset) % tickInks.length])
    .attr("stroke-width", 1.3);
}

const bottomAxis = svg.append("g").attr("transform", `translate(0,${plot.bottom})`)
  .call(d3.axisBottom(x).tickValues(xTickValues).tickSizeInner(-10).tickSizeOuter(0)
    .tickPadding(2).tickFormat(d3.format("d")));
bottomAxis.select(".domain").attr("stroke", "#22c2c2").attr("stroke-width", 2);
bottomAxis.selectAll("text").attr("font-size", 17).attr("fill", textInk)
  .attr("font-family", "'Liberation Sans', Arial, sans-serif");
inkTicks(bottomAxis, 0);

const topAxis = svg.append("g").attr("transform", `translate(0,${plot.top})`)
  .call(d3.axisTop(x).tickValues(xTickValues).tickSizeInner(-10).tickSizeOuter(0).tickFormat(""));
topAxis.select(".domain").attr("stroke", "#22c2c2").attr("stroke-width", 2);
inkTicks(topAxis, 3);

function yAxes(side, xpos, offset) {
  const make = side === "left" ? d3.axisLeft : d3.axisRight;
  const minorG = svg.append("g").attr("transform", `translate(${xpos},0)`)
    .call(make(y).tickValues(minorValues).tickSizeInner(-5).tickSizeOuter(0).tickFormat(""));
  minorG.select(".domain").remove();
  inkTicks(minorG, offset);
  const majorG = svg.append("g").attr("transform", `translate(${xpos},0)`)
    .call(make(y).tickValues(decadeValues).tickSizeInner(-10).tickSizeOuter(0).tickFormat(""));
  majorG.select(".domain").attr("stroke", side === "left" ? "#3aa23a" : "#22b8b8").attr("stroke-width", 1.5);
  majorG.selectAll(".tick line").attr("stroke", "#666").attr("stroke-width", 2);
}
yAxes("left", plot.left, 1);
yAxes("right", plot.right, 2);

// decade labels 10^n
const yLabels = svg.append("g");
yTickExponents.forEach(e => {
  yLabels.append("text")
    .attr("x", 50).attr("y", y(Math.pow(10, e)) + 7)
    .attr("text-anchor", "end").attr("font-size", 17).attr("fill", textInk)
    .text("10");
  yLabels.append("text")
    .attr("x", 51).attr("y", y(Math.pow(10, e)) - 3)
    .attr("font-size", 11).attr("fill", "#1d9e9e").text(String(e));
});

// titles
svg.append("text").attr("x", 547).attr("y", 24).attr("text-anchor", "middle")
  .attr("font-size", 18).attr("fill", textInk)
  .attr("textLength", 676).attr("lengthAdjust", "spacingAndGlyphs")
  .text("Intensities relative to maximum intensity for each slit, HeCd laser @ 325 nm");
svg.append("text").attr("x", 545).attr("y", 644).attr("text-anchor", "middle")
  .attr("font-size", 17).attr("fill", textInk).text("Wavelength (nm)");
svg.append("text").attr("transform", "translate(20,331) rotate(-90)").attr("text-anchor", "middle")
  .attr("font-size", 17).attr("fill", textInk).text("Relative intesity");

// legend
const legend = svg.append("g");
legend.append("rect").attr("x", 943.5).attr("y", 43.5).attr("width", 83).attr("height", 113)
  .attr("fill", "#fff").attr("stroke", "#2fa890").attr("stroke-width", 1);
slitNames.forEach((name, i) => {
  const cy = 57 + i * 22;
  legend.append("circle").attr("cx", 966).attr("cy", cy).attr("r", 2.3)
    .attr("fill", "none").attr("stroke", slitColors[i]).attr("stroke-width", 1);
  legend.append("text").attr("x", 982).attr("y", cy + 6).attr("font-size", 17)
    .attr("fill", textInk).text(name);
});
</script>
</body>
</html>
